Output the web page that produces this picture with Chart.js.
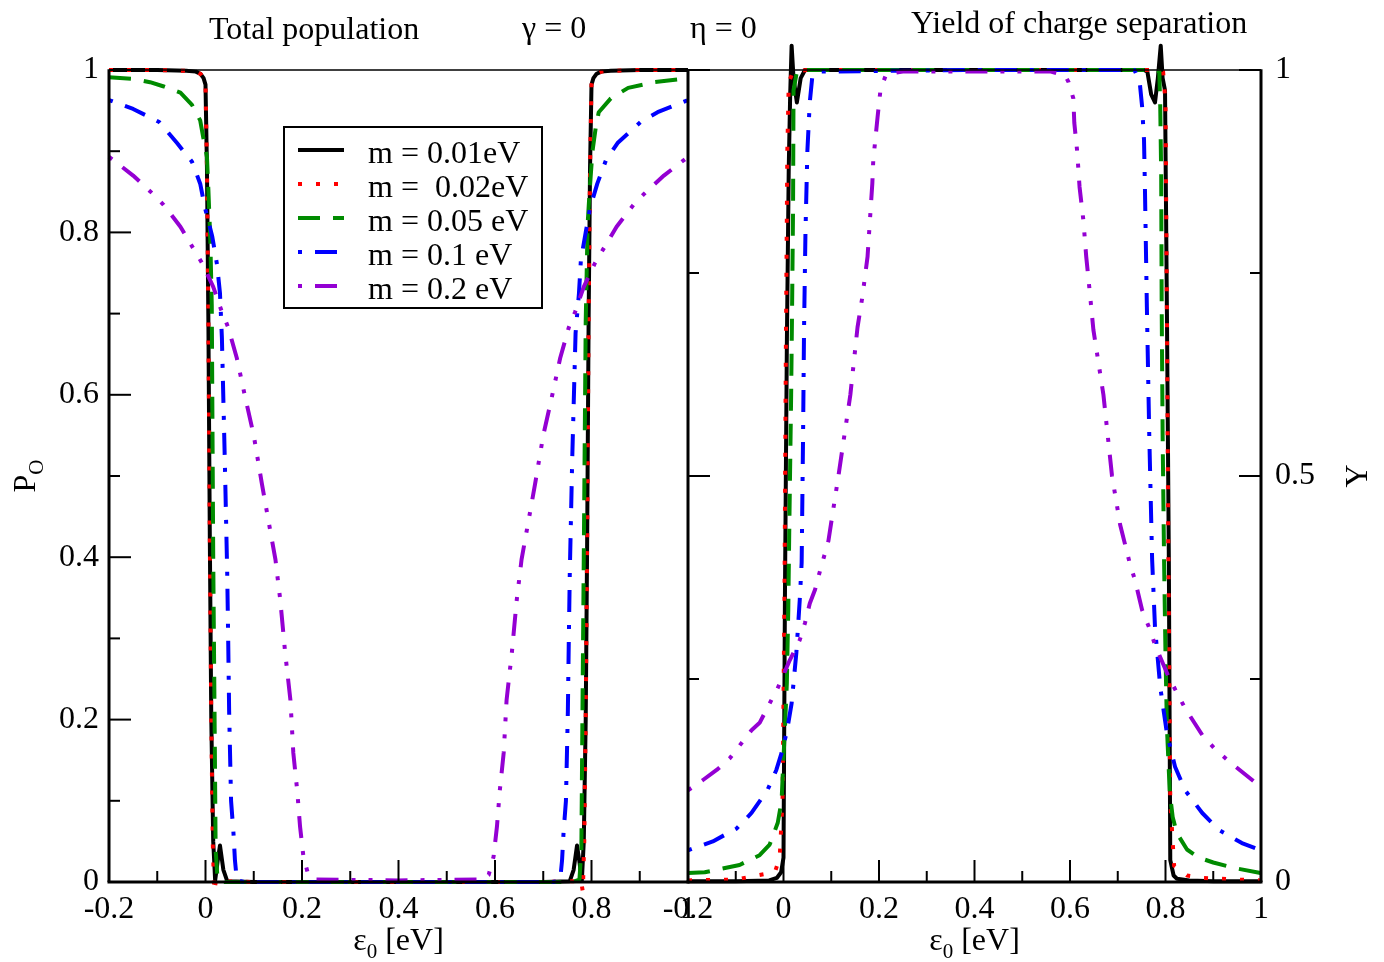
<!DOCTYPE html>
<html>
<head>
<meta charset="utf-8">
<script src="https://cdn.jsdelivr.net/npm/chart.js@4.4.1/dist/chart.umd.min.js"></script>
<style>
html,body{margin:0;padding:0;background:#fff;}
#wrap{position:relative;width:1384px;height:962px;overflow:hidden;background:#fff;}
canvas{position:absolute;left:0;top:0;}
</style>
</head>
<body>
<div id="wrap">
<canvas id="cPop" width="1384" height="962"></canvas>
<canvas id="cYld" width="1384" height="962"></canvas>
</div>
<script>
// ---------------- DATA ----------------
const seriesLabels = ['m = 0.01eV', 'm =  0.02eV', 'm = 0.05 eV', 'm = 0.1 eV', 'm = 0.2 eV'];

// Left panel: total population P_O vs eps0
const popX_001 = [-0.2, -0.1, -0.04, -0.02, -0.01, -0.004, 0, 0.003, 0.006, 0.009, 0.012, 0.016, 0.02, 0.025, 0.03, 0.037, 0.045, 0.1, 0.4, 0.7, 0.755, 0.763, 0.77, 0.775, 0.78, 0.784, 0.788, 0.791, 0.794, 0.797, 0.8, 0.804, 0.81, 0.82, 0.84, 0.9, 1.0];
const popY_001 = [1.0, 1.0, 0.999, 0.998, 0.995, 0.99, 0.982, 0.88, 0.69, 0.42, 0.2, 0.05, 0.002, 0.025, 0.045, 0.015, 0.001, 0, 0, 0, 0.001, 0.015, 0.045, 0.025, 0.002, 0.05, 0.2, 0.42, 0.69, 0.88, 0.982, 0.99, 0.995, 0.998, 0.999, 1.0, 1.0];

const popX_002 = [-0.2, -0.1, -0.04, -0.02, -0.01, -0.004, 0, 0.003, 0.006, 0.009, 0.012, 0.015, 0.018, 0.022, 0.03, 0.1, 0.4, 0.7, 0.77, 0.778, 0.782, 0.785, 0.788, 0.791, 0.794, 0.797, 0.8, 0.804, 0.81, 0.82, 0.84, 0.9, 1.0];
const popY_002 = [1.0, 1.0, 0.999, 0.998, 0.995, 0.99, 0.982, 0.88, 0.69, 0.42, 0.2, 0.05, -0.012, 0.003, 0.001, 0, 0, 0, 0.001, 0.003, -0.012, 0.05, 0.2, 0.42, 0.69, 0.88, 0.982, 0.99, 0.995, 0.998, 0.999, 1.0, 1.0];

const popX_005 = [-0.2, -0.15, -0.115, -0.088, -0.052, -0.028, -0.011, -0.005, 0.003, 0.006, 0.01, 0.013, 0.016, 0.019, 0.021, 0.025, 0.04, 0.4, 0.76, 0.775, 0.779, 0.781, 0.784, 0.788, 0.792, 0.796, 0.802, 0.809, 0.815, 0.84, 0.876, 0.93, 1.0];
const popY_005 = [0.991, 0.989, 0.985, 0.98, 0.972, 0.957, 0.938, 0.918, 0.893, 0.852, 0.79, 0.71, 0.4, 0.19, 0.04, 0.003, 0, 0, 0, 0.003, 0.04, 0.19, 0.4, 0.69, 0.81, 0.85, 0.9, 0.93, 0.948, 0.965, 0.978, 0.985, 0.99];

const popX_01 = [-0.2, -0.15, -0.096, -0.059, -0.028, -0.011, -0.001, 0.014, 0.024, 0.03, 0.034, 0.04, 0.045, 0.047, 0.049, 0.053, 0.058, 0.061, 0.065, 0.08, 0.4, 0.72, 0.735, 0.739, 0.742, 0.747, 0.751, 0.753, 0.755, 0.76, 0.767, 0.774, 0.778, 0.788, 0.797, 0.812, 0.83, 0.854, 0.902, 0.937, 1.0];
const popY_01 = [0.963, 0.952, 0.936, 0.91, 0.887, 0.86, 0.83, 0.795, 0.76, 0.725, 0.67, 0.52, 0.38, 0.3, 0.21, 0.1, 0.06, 0.027, 0.002, 0, 0, 0, 0.002, 0.027, 0.06, 0.1, 0.21, 0.3, 0.38, 0.52, 0.676, 0.725, 0.766, 0.8, 0.83, 0.86, 0.889, 0.91, 0.936, 0.948, 0.963];

const popX_02 = [-0.2, -0.15, -0.11, -0.087, -0.052, -0.025, -0.007, 0.016, 0.034, 0.047, 0.065, 0.083, 0.1, 0.117, 0.132, 0.145, 0.155, 0.165, 0.176, 0.182, 0.19, 0.196, 0.203, 0.213, 0.23, 0.4, 0.57, 0.587, 0.597, 0.604, 0.61, 0.618, 0.624, 0.635, 0.645, 0.655, 0.668, 0.683, 0.7, 0.717, 0.735, 0.753, 0.766, 0.784, 0.807, 0.825, 0.852, 0.887, 0.91, 0.95, 1.0];
const popY_02 = [0.893, 0.87, 0.848, 0.834, 0.807, 0.78, 0.762, 0.733, 0.702, 0.683, 0.645, 0.595, 0.55, 0.49, 0.44, 0.397, 0.347, 0.283, 0.224, 0.159, 0.113, 0.068, 0.031, 0.009, 0.003, 0.002, 0.003, 0.009, 0.031, 0.068, 0.113, 0.159, 0.224, 0.283, 0.347, 0.397, 0.44, 0.49, 0.55, 0.595, 0.645, 0.683, 0.702, 0.733, 0.762, 0.78, 0.807, 0.834, 0.848, 0.87, 0.893];

// Right panel: yield of charge separation Y vs eps0
const yldX_001 = [-0.2, -0.1, -0.03, -0.014, -0.005, 0, 0.003, 0.007, 0.011, 0.014, 0.017, 0.021, 0.028, 0.036, 0.045, 0.4, 0.755, 0.762, 0.77, 0.778, 0.784, 0.79, 0.794, 0.799, 0.803, 0.807, 0.81, 0.817, 0.824, 0.85, 0.9, 1.0];
const yldY_001 = [0.001, 0.001, 0.002, 0.005, 0.012, 0.03, 0.35, 0.66, 0.88, 0.97, 1.03, 0.99, 0.96, 0.99, 1.0, 1.0, 1.0, 0.998, 0.97, 0.96, 0.99, 1.03, 0.99, 0.975, 0.7, 0.397, 0.027, 0.008, 0.004, 0.002, 0.001, 0.001];

const yldX_002 = [-0.2, -0.1, -0.056, -0.018, -0.008, -0.002, 0.002, 0.005, 0.008, 0.011, 0.02, 0.05, 0.4, 0.78, 0.795, 0.8, 0.803, 0.806, 0.81, 0.818, 0.845, 0.88, 0.95, 1.0];
const yldY_002 = [0.002, 0.003, 0.008, 0.012, 0.03, 0.1, 0.35, 0.66, 0.9, 0.985, 0.998, 1.0, 1.0, 1.0, 0.998, 0.96, 0.7, 0.4, 0.1, 0.02, 0.008, 0.005, 0.003, 0.002];

const yldX_005 = [-0.2, -0.165, -0.092, -0.05, -0.029, -0.012, -0.004, -0.001, 0.003, 0.007, 0.01, 0.012, 0.016, 0.018, 0.02, 0.021, 0.028, 0.05, 0.4, 0.78, 0.787, 0.789, 0.791, 0.792, 0.794, 0.797, 0.8, 0.803, 0.809, 0.815, 0.824, 0.845, 0.87, 0.9, 0.946, 1.0];
const yldY_005 = [0.011, 0.012, 0.021, 0.033, 0.046, 0.073, 0.1, 0.14, 0.19, 0.245, 0.335, 0.43, 0.6, 0.708, 0.83, 0.975, 0.998, 1.0, 1.0, 1.0, 0.998, 0.955, 0.87, 0.71, 0.55, 0.397, 0.28, 0.19, 0.11, 0.08, 0.06, 0.04, 0.03, 0.024, 0.017, 0.011];

const yldX_01 = [-0.2, -0.148, -0.098, -0.067, -0.033, -0.015, -0.004, 0.007, 0.017, 0.027, 0.034, 0.038, 0.041, 0.043, 0.046, 0.05, 0.055, 0.06, 0.07, 0.4, 0.735, 0.746, 0.751, 0.755, 0.757, 0.761, 0.766, 0.772, 0.778, 0.789, 0.803, 0.82, 0.841, 0.877, 0.912, 0.96, 1.0];
const yldY_01 = [0.039, 0.05, 0.066, 0.085, 0.114, 0.138, 0.159, 0.185, 0.22, 0.283, 0.347, 0.393, 0.55, 0.68, 0.8, 0.9, 0.96, 0.99, 0.998, 1.0, 1.0, 0.985, 0.955, 0.914, 0.852, 0.708, 0.55, 0.397, 0.314, 0.24, 0.183, 0.142, 0.113, 0.085, 0.064, 0.048, 0.039];

const yldX_02 = [-0.2, -0.17, -0.14, -0.113, -0.067, -0.05, -0.029, -0.012, 0.013, 0.034, 0.045, 0.055, 0.066, 0.075, 0.094, 0.115, 0.14, 0.155, 0.165, 0.176, 0.182, 0.186, 0.188, 0.197, 0.203, 0.215, 0.25, 0.4, 0.56, 0.59, 0.597, 0.607, 0.609, 0.615, 0.62, 0.628, 0.634, 0.641, 0.649, 0.67, 0.688, 0.705, 0.725, 0.736, 0.751, 0.768, 0.778, 0.807, 0.841, 0.877, 0.905, 0.934, 0.989, 1.0];
const yldY_02 = [0.113, 0.125, 0.138, 0.152, 0.187, 0.196, 0.22, 0.239, 0.273, 0.298, 0.319, 0.343, 0.36, 0.38, 0.42, 0.5, 0.6, 0.683, 0.72, 0.77, 0.824, 0.86, 0.889, 0.942, 0.975, 0.995, 0.998, 0.998, 0.998, 0.993, 0.985, 0.965, 0.935, 0.9, 0.856, 0.815, 0.77, 0.729, 0.68, 0.6, 0.5, 0.44, 0.393, 0.372, 0.335, 0.31, 0.292, 0.252, 0.214, 0.181, 0.163, 0.148, 0.122, 0.113];

// Ticks
const xTickValues = [-0.2, -0.1, 0, 0.1, 0.2, 0.3, 0.4, 0.5, 0.6, 0.7, 0.8, 0.9, 1.0];
const xTickLabels = ['-0.2', '', '0', '', '0.2', '', '0.4', '', '0.6', '', '0.8', '', '1'];
const popTickValues = [0, 0.1, 0.2, 0.3, 0.4, 0.5, 0.6, 0.7, 0.8, 0.9, 1.0];
const popTickLabels = ['0', '', '0.2', '', '0.4', '', '0.6', '', '0.8', '', '1'];
const yldTickValues = [0, 0.25, 0.5, 0.75, 1.0];
const yldTickLabels = ['0', '', '0.5', '', '1'];

const titleTexts = ['Total population', 'γ = 0', 'η = 0', 'Yield of charge separation'];

// ---------------- STYLE ----------------
const FONT = '"Liberation Serif", "Times New Roman", Times, serif';
const seriesStyles = [
  { color: '#000000', dash: [] },
  { color: '#ff0000', dash: [4, 14] },
  { color: '#008b00', dash: [22, 13] },
  { color: '#0000ff', dash: [4, 13, 22, 13] },
  { color: '#9400d3', dash: [4, 13, 22, 13, 4, 13] }
];

function pts(xs, ys) { return xs.map((x, i) => ({ x: x, y: ys[i] })); }
function makeDatasets(list) {
  return list.map((p, i) => ({
    label: seriesLabels[i],
    data: pts(p[0], p[1]),
    showLine: true,
    borderColor: seriesStyles[i].color,
    backgroundColor: seriesStyles[i].color,
    borderWidth: 4,
    borderDash: seriesStyles[i].dash,
    borderCapStyle: 'butt',
    borderJoinStyle: 'round',
    pointRadius: 0,
    pointHoverRadius: 0,
    tension: 0,
    fill: false,
    clip: false,
    order: 5 - i
  }));
}

function tickFont() { return { family: FONT, size: 32 }; }

function xScale() {
  return {
    type: 'linear', min: -0.2, max: 1.0,
    afterBuildTicks: s => { s.ticks = xTickValues.map(v => ({ value: v })); },
    afterFit: s => { s.height = 60; },
    ticks: { autoSkip: false, maxRotation: 0, minRotation: 0, padding: 8, color: '#000', font: tickFont(),
             callback: (v, i) => xTickLabels[i] },
    grid: { display: false, drawTicks: false },
    border: { display: false }
  };
}

// frame + inward ticks drawn from the library scales
function framePlugin(cfg) {
  return {
    id: 'frameTicks',
    afterDatasetsDraw(chart) {
      const { ctx, chartArea: a } = chart;
      const xs = chart.scales.x, ys = chart.scales.y;
      ctx.save();
      ctx.strokeStyle = '#000';
      ctx.setLineDash([]);
      ctx.lineCap = 'butt';
      ctx.lineWidth = 2;
      const seg = (x1, y1, x2, y2) => { ctx.beginPath(); ctx.moveTo(x1, y1); ctx.lineTo(x2, y2); ctx.stroke(); };
      xs.ticks.forEach(t => {
        const px = xs.getPixelForValue(t.value);
        const len = t.label ? 22 : 11;
        seg(px, a.bottom, px, a.bottom - len);
      });
      ys.ticks.forEach(t => {
        const py = ys.getPixelForValue(t.value);
        const len = t.label ? 22 : 11;
        if (cfg.leftTicks) seg(a.left, py, a.left + len, py);
        if (cfg.rightTicks) seg(a.right, py, a.right - len, py);
      });
      // frame
      ctx.lineWidth = 1.6;
      seg(a.left, a.top, a.right, a.top);
      ctx.lineWidth = 3;
      seg(a.left - 1.5, a.bottom, a.right + 1.5, a.bottom);
      seg(a.left, a.top - 0.8, a.left, a.bottom);
      if (cfg.rightEdge) seg(a.right, a.top - 0.8, a.right, a.bottom);
      ctx.restore();
    }
  };
}

const legendPlugin = {
  id: 'boxLegend',
  afterDatasetsDraw(chart) {
    const { ctx, chartArea: a } = chart;
    const bx = a.left + 175, by = 127, bw = 258, bh = 181;
    ctx.save();
    ctx.fillStyle = '#fff';
    ctx.fillRect(bx, by, bw, bh);
    ctx.strokeStyle = '#000';
    ctx.lineWidth = 2;
    ctx.setLineDash([]);
    ctx.strokeRect(bx, by, bw, bh);
    ctx.font = '32px ' + FONT;
    ctx.textBaseline = 'alphabetic';
    ctx.textAlign = 'left';
    chart.data.datasets.forEach((ds, i) => {
      const ry = by + 23 + i * 34;
      ctx.beginPath();
      ctx.strokeStyle = ds.borderColor;
      ctx.lineWidth = 4;
      ctx.lineCap = 'butt';
      ctx.setLineDash(ds.borderDash);
      ctx.lineDashOffset = 0;
      ctx.moveTo(bx + 14, ry);
      ctx.lineTo(bx + 60, ry);
      ctx.stroke();
      ctx.setLineDash([]);
      ctx.fillStyle = '#000';
      ctx.fillText(ds.label, bx + 84, ry + 13);
    });
    ctx.restore();
  }
};

function drawSubText(ctx, main, sub, rest, x, y, align) {
  const big = '32px ' + FONT, small = '21px ' + FONT;
  ctx.font = big; const w1 = ctx.measureText(main).width; const w3 = ctx.measureText(rest).width;
  ctx.font = small; const w2 = ctx.measureText(sub).width;
  const total = w1 + w2 + w3;
  let sx = align === 'center' ? x - total / 2 : x;
  ctx.textAlign = 'left';
  ctx.font = big; ctx.fillText(main, sx, y);
  ctx.font = small; ctx.fillText(sub, sx + w1, y + 8);
  ctx.font = big; ctx.fillText(rest, sx + w1 + w2, y);
}

const textPlugin = {
  id: 'texts',
  afterDraw(chart) {
    const ctx = chart.ctx;
    const popArea = popChart.chartArea, a = chart.chartArea;
    ctx.save();
    ctx.fillStyle = '#000';
    ctx.textBaseline = 'alphabetic';
    ctx.textAlign = 'left';
    ctx.font = '32px ' + FONT;
    ctx.fillText(titleTexts[0], 209, 39);
    ctx.fillText(titleTexts[1], 522, 38);
    ctx.fillText(titleTexts[2], 690, 38);
    ctx.fillText(titleTexts[3], 911, 33);
    // x-axis titles
    drawSubText(ctx, 'ε', '0', ' [eV]', (popArea.left + popArea.right) / 2, 950, 'center');
    drawSubText(ctx, 'ε', '0', ' [eV]', (a.left + a.right) / 2, 950, 'center');
    // left y title
    ctx.save();
    ctx.translate(35, (popArea.top + popArea.bottom) / 2);
    ctx.rotate(-Math.PI / 2);
    drawSubText(ctx, 'P', 'O', '', 0, 0, 'center');
    ctx.restore();
    // right y title
    ctx.save();
    ctx.translate(1367, (a.top + a.bottom) / 2);
    ctx.rotate(-Math.PI / 2);
    ctx.font = '32px ' + FONT;
    ctx.textAlign = 'center';
    ctx.fillText('Y', 0, 0);
    ctx.restore();
    ctx.restore();
  }
};

const baseOptions = (padding) => ({
  responsive: false,
  animation: false,
  events: [],
  layout: { padding: padding },
  plugins: { legend: { display: false }, tooltip: { enabled: false }, title: { display: false } }
});

const popOpts = baseOptions({ left: 29, right: 696, top: 70, bottom: 20 });
popOpts.scales = {
  x: xScale(),
  y: {
    type: 'linear', min: 0, max: 1, position: 'left',
    afterBuildTicks: s => { s.ticks = popTickValues.map(v => ({ value: v })); },
    afterFit: s => { s.width = 80; },
    ticks: { autoSkip: false, padding: 10, color: '#000', font: tickFont(), callback: (v, i) => popTickLabels[i] },
    grid: { display: false, drawTicks: false },
    border: { display: false }
  }
};

const popChart = new Chart(document.getElementById('cPop'), {
  type: 'scatter',
  data: { datasets: makeDatasets([[popX_001, popY_001], [popX_002, popY_002], [popX_005, popY_005], [popX_01, popY_01], [popX_02, popY_02]]) },
  options: popOpts,
  plugins: [framePlugin({ leftTicks: true, rightTicks: false, rightEdge: false }), legendPlugin]
});

const yldOpts = baseOptions({ left: 688, right: 43, top: 70, bottom: 20 });
yldOpts.scales = {
  x: xScale(),
  y: {
    type: 'linear', min: 0, max: 1, position: 'right',
    afterBuildTicks: s => { s.ticks = yldTickValues.map(v => ({ value: v })); },
    afterFit: s => { s.width = 80; },
    ticks: { autoSkip: false, padding: 14, color: '#000', font: tickFont(), callback: (v, i) => yldTickLabels[i] },
    grid: { display: false, drawTicks: false },
    border: { display: false }
  }
};

const yldChart = new Chart(document.getElementById('cYld'), {
  type: 'scatter',
  data: { datasets: makeDatasets([[yldX_001, yldY_001], [yldX_002, yldY_002], [yldX_005, yldY_005], [yldX_01, yldY_01], [yldX_02, yldY_02]]) },
  options: yldOpts,
  plugins: [framePlugin({ leftTicks: true, rightTicks: true, rightEdge: true }), textPlugin]
});
</script>
</body>
</html>
